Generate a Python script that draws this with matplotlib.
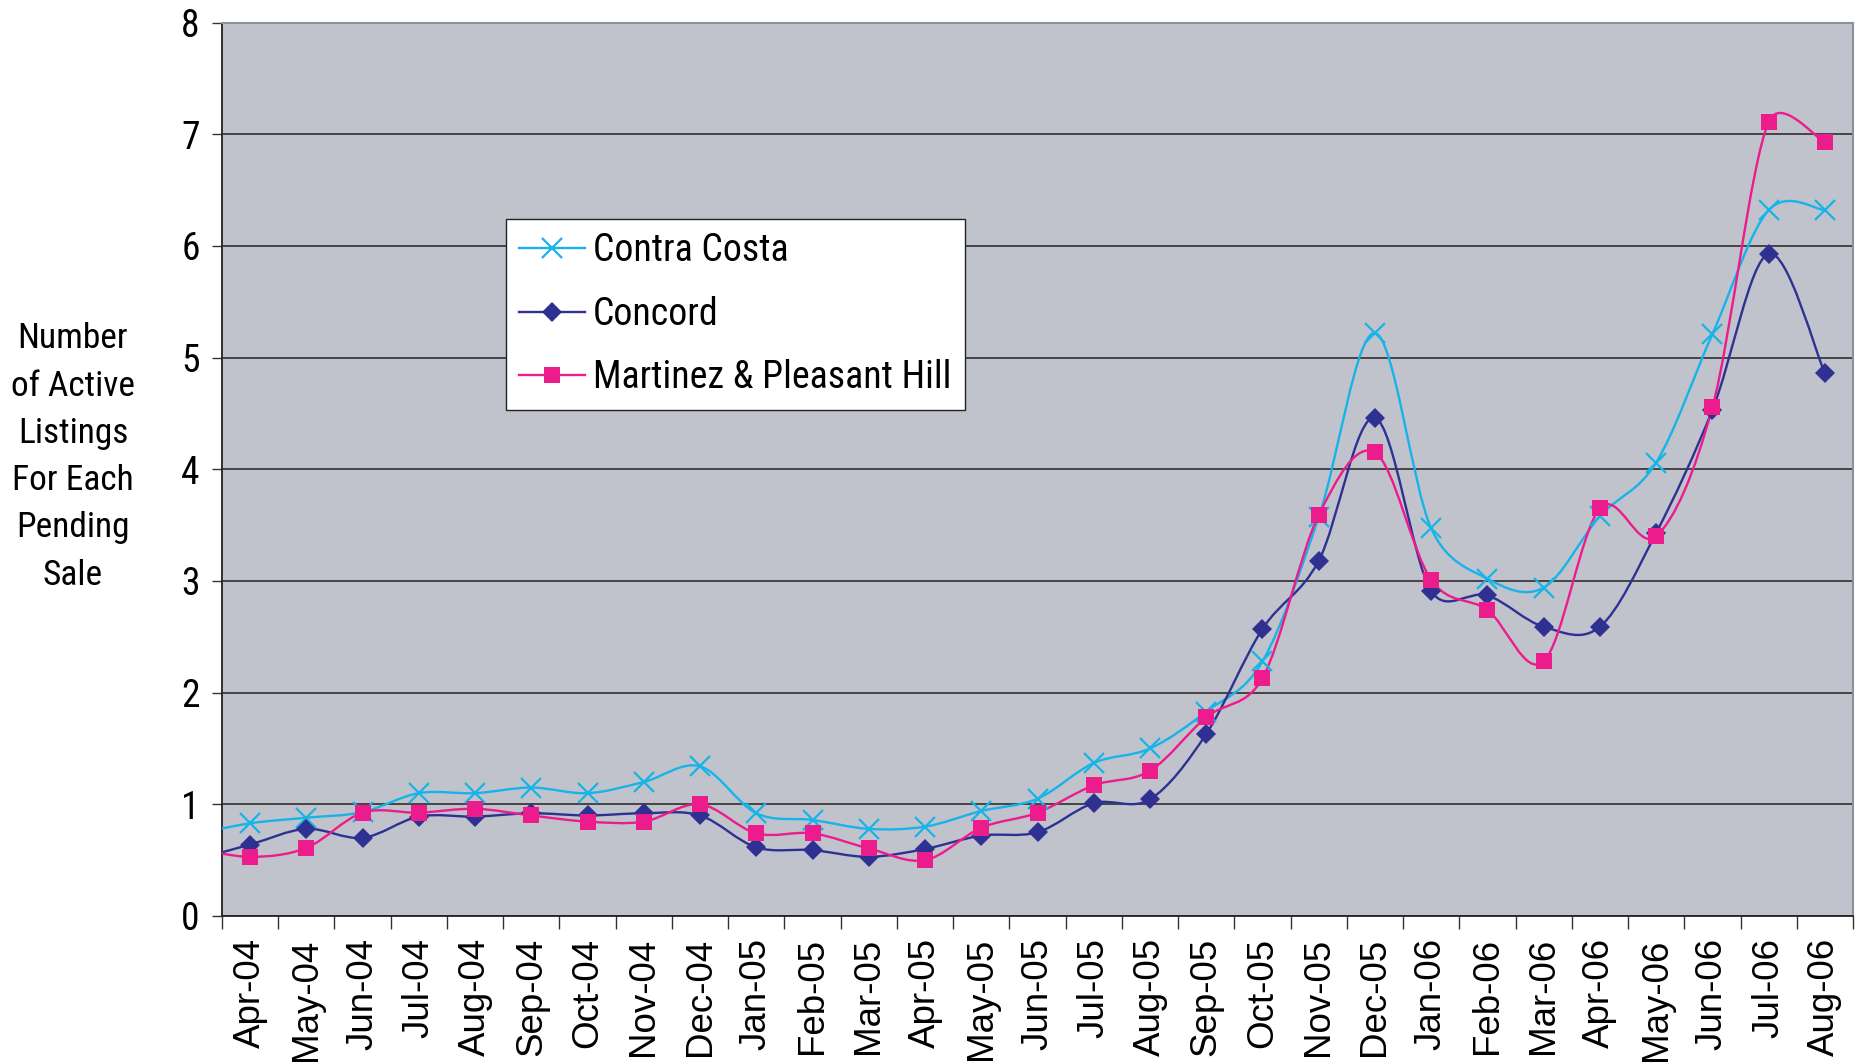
"""Active listings per pending sale: Contra Costa vs Concord vs Martinez & Pleasant Hill,
Apr-04 .. Aug-06, drawn Excel style (smoothed lines, grey plot area)."""
import matplotlib as mpl
mpl.use("Agg")
import matplotlib.pyplot as plt
from matplotlib import font_manager
from matplotlib.lines import Line2D
from matplotlib.patches import PathPatch
from matplotlib.path import Path
import numpy as np

months = ["Apr-04", "May-04", "Jun-04", "Jul-04", "Aug-04", "Sep-04", "Oct-04", "Nov-04",
          "Dec-04", "Jan-05", "Feb-05", "Mar-05", "Apr-05", "May-05", "Jun-05", "Jul-05",
          "Aug-05", "Sep-05", "Oct-05", "Nov-05", "Dec-05", "Jan-06", "Feb-06", "Mar-06",
          "Apr-06", "May-06", "Jun-06", "Jul-06", "Aug-06"]

contra_costa = [0.83, 0.88, 0.93, 1.10, 1.10, 1.15, 1.10, 1.20, 1.34,
                0.92, 0.86, 0.78, 0.80, 0.94, 1.05, 1.37, 1.50, 1.83, 2.28, 3.57, 5.22,
                3.47, 3.02, 2.94, 3.58, 4.06, 5.21, 6.32, 6.32]
concord = [0.64, 0.78, 0.70, 0.89, 0.89, 0.92, 0.90, 0.92, 0.90,
           0.615, 0.59, 0.53, 0.60, 0.72, 0.75, 1.01, 1.045, 1.63, 2.57, 3.18, 4.46,
           2.91, 2.87, 2.59, 2.59, 3.43, 4.53, 5.93, 4.86]
martinez = [0.53, 0.61, 0.925, 0.925, 0.96, 0.90, 0.845, 0.845, 1.00,
            0.74, 0.74, 0.605, 0.50, 0.79, 0.925, 1.17, 1.30, 1.78, 2.13, 3.59, 4.15,
            3.01, 2.74, 2.28, 3.65, 3.40, 4.555, 7.11, 6.93]
# Mar-04 values: off the chart, only the line coming in from the left edge shows
mar04 = [0.73, 0.50, 0.61]

names = ["Contra Costa", "Concord", "Martinez & Pleasant Hill"]
colors = ["#16B4E8", "#2E3192", "#EC1C8C"]
marker_kw = [dict(marker="x", ms=14, mew=1.6),
             dict(marker="D", ms=10.5, mew=0),
             dict(marker="s", ms=11.5, mew=0)]


def pick(*fams):
    have = {f.name for f in font_manager.fontManager.ttflist}
    for f in fams:
        if f in have:
            return f
    return "DejaVu Sans"


narrow = pick("Liberation Sans Narrow", "Arial Narrow", "Roboto Condensed", "Liberation Sans")
regular = pick("Liberation Sans", "Arial", "DejaVu Sans")


def smooth_path(ax, xs, ys):
    # Excel-like smoothing: bezier segments, control arms capped at half the segment
    pts = ax.transData.transform(np.column_stack([xs, ys]))
    n = len(pts)
    verts, codes = [pts[0]], [Path.MOVETO]
    for i in range(n - 1):
        p0, p1 = pts[max(i - 1, 0)], pts[i]
        p2, p3 = pts[i + 1], pts[min(i + 2, n - 1)]
        half = np.hypot(*(p2 - p1)) / 2
        a = (p2 - p0) / 6
        b = (p3 - p1) / 6
        la, lb = np.hypot(*a), np.hypot(*b)
        if la > half:
            a = a * half / la
        if lb > half:
            b = b * half / lb
        verts += [p1 + a, p2 - b, p2]
        codes += [Path.CURVE4] * 3
    return Path(ax.transData.inverted().transform(np.array(verts)), codes)


fig = plt.figure(figsize=(18.55, 10.63), dpi=100)
ax = fig.add_axes([222 / 1855, 1 - 916 / 1063, (1853 - 222) / 1855, (916 - 22.5) / 1063])
ax.set_facecolor("#C0C3CB")
ax.set_xlim(-0.5, len(months) - 0.5)
ax.set_ylim(0, 8)

x = np.arange(len(months))
handles = []
for vals, start, name, col, mk in zip([contra_costa, concord, martinez], mar04,
                                      names, colors, marker_kw):
    xs = np.concatenate([[-1], x])
    ys = np.concatenate([[start], vals])
    ax.add_patch(PathPatch(smooth_path(ax, xs, ys), fc="none", ec=col, lw=1.7, zorder=3))
    ax.plot(x, vals, ls="none", color=col, zorder=4, **mk)
    handles.append(Line2D([], [], color=col, lw=1.7, **mk))

ax.yaxis.grid(True, color="#3a3a3a", lw=1.3)
ax.set_axisbelow(True)
ax.set_yticks(range(9))
ax.set_yticklabels([str(v) for v in range(9)], fontfamily=narrow, fontsize=27)
ax.tick_params(axis="y", length=7, width=1, color="#333333", pad=9)

ax.set_xticks(np.arange(-0.5, len(months), 1))
ax.set_xticklabels([])
ax.set_xticks(x, minor=True)
ax.set_xticklabels(months, minor=True, rotation=90, fontfamily=regular, fontsize=26.5)
ax.tick_params(axis="x", which="major", length=9, width=1, color="#333333")
ax.tick_params(axis="x", which="minor", length=0, pad=16)

for side in ["left", "bottom"]:
    ax.spines[side].set_color("#222222")
    ax.spines[side].set_linewidth(1.3)
for side in ["top", "right"]:
    ax.spines[side].set_color("#8C9098")
    ax.spines[side].set_linewidth(1.5)

leg = ax.legend(handles, names, loc="upper left", bbox_to_anchor=(0.174, 0.780),
                borderaxespad=0, fancybox=False, framealpha=1, edgecolor="#222222",
                prop={"family": narrow, "size": 27.3}, handlelength=1.75,
                handletextpad=0.2, labelspacing=0.7, borderpad=0.35)
leg.get_frame().set_linewidth(1.0)

fig.text(73 / 1855, 1 - 457 / 1063, "Number\nof Active\nListings\nFor Each\nPending\nSale",
         ha="center", va="center", multialignment="center", fontfamily=narrow,
         fontsize=25.5, linespacing=1.55)

fig.savefig("out.png", dpi=100)
